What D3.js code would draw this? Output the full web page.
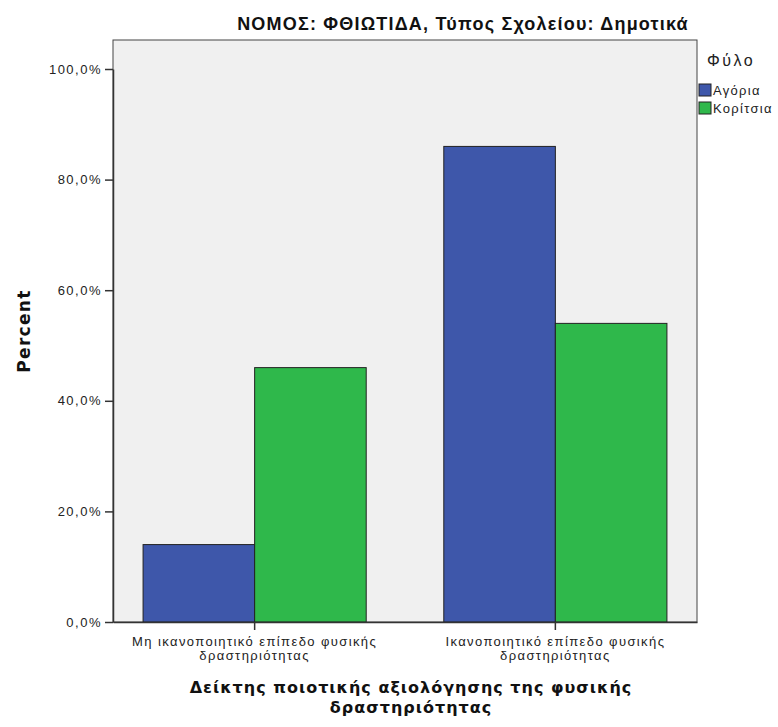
<!DOCTYPE html>
<html><head><meta charset="utf-8">
<script src="https://cdn.jsdelivr.net/npm/d3@7"></script>
<style>body{margin:0;background:#fff;} text{font-family:"Liberation Sans",Arial,sans-serif;}</style>
</head><body>
<svg id="c" width="778" height="727"></svg>
<script>
const categories = [["Μη ικανοποιητικό επίπεδο φυσικής","δραστηριότητας"],["Ικανοποιητικό επίπεδο φυσικής","δραστηριότητας"]];
const seriesNames = ["Αγόρια","Κορίτσια"];
const boys = [14.0, 86.0];
const girls = [46.0, 54.0];
const yTicks = [0,20,40,60,80,100];
const colors = ["#3e57aa","#2fb84b"];

const svg = d3.select("#c");
const L=113, R=697, T=40, B=622;
const y = d3.scaleLinear().domain([0,100]).range([B,69]);
const x0 = d3.scaleBand().domain(d3.range(categories.length)).range([L,R]).paddingInner(0.258).paddingOuter(0.1);
const x1 = d3.scaleBand().domain(d3.range(seriesNames.length)).range([0,x0.bandwidth()]);

svg.append("rect").attr("x",L).attr("y",T).attr("width",R-L).attr("height",B-T).attr("fill","#f0f0f0").attr("stroke","#444").attr("stroke-width",1);

const data = categories.map((c,i)=>[boys[i],girls[i]]);
const g = svg.append("g");
data.forEach((vals,i)=>{
  vals.forEach((v,j)=>{
    g.append("rect").attr("x",x0(i)+x1(j)).attr("y",y(v)).attr("width",x1.bandwidth()).attr("height",B-y(v))
     .attr("fill",colors[j]).attr("stroke","#222").attr("stroke-width",1);
  });
});

// y axis
const ya = svg.append("g").attr("transform",`translate(${L},0)`).call(d3.axisLeft(y).tickValues(yTicks).tickSize(8).tickSizeOuter(0).tickFormat(d=>d.toFixed(1).replace(".",",")+"%"));
ya.select(".domain").attr("stroke","#333").attr("stroke-width",1.5);
ya.selectAll(".tick line").attr("stroke","#333").attr("stroke-width",1.5);
ya.selectAll(".tick text").attr("font-size",13).attr("letter-spacing",1.5).attr("fill","#222").attr("x",-11);

// x axis
const xa = svg.append("g").attr("transform",`translate(0,${B})`).call(d3.axisBottom(x0).tickSize(8).tickSizeOuter(0).tickFormat(""));
xa.select(".domain").attr("stroke","#333").attr("stroke-width",1.5);
xa.selectAll(".tick line").attr("stroke","#333").attr("stroke-width",1.5);
categories.forEach((c,i)=>{
  const cx = x0(i)+x0.bandwidth()/2;
  const t = svg.append("text").attr("text-anchor","middle").attr("font-size",13).attr("letter-spacing",1.4).attr("fill","#222");
  c.forEach((line,k)=> t.append("tspan").attr("x",cx).attr("y",646+k*14).text(line));
});

// titles
svg.append("text").attr("x",463).attr("y",30).attr("text-anchor","middle").attr("font-size",18).attr("letter-spacing",1.2).attr("font-weight","bold").attr("fill","#111").text("ΝΟΜΟΣ: ΦΘΙΩΤΙΔΑ, Τύπος Σχολείου: Δημοτικά");
svg.append("text").attr("transform","translate(30,331) rotate(-90)").attr("text-anchor","middle").attr("font-size",17).attr("letter-spacing",1.3).style("font-family","'DejaVu Sans'").attr("font-weight","bold").attr("fill","#111").text("Percent");
const xt = svg.append("text").attr("text-anchor","middle").attr("font-size",16).attr("letter-spacing",1.0).style("font-family","'DejaVu Sans'").attr("font-weight","bold").attr("fill","#111");
xt.append("tspan").attr("x",411).attr("y",693).text("Δείκτης ποιοτικής αξιολόγησης της φυσικής");
xt.append("tspan").attr("x",411).attr("y",713).text("δραστηριότητας");

// legend
svg.append("text").attr("x",707).attr("y",66).attr("font-size",16).attr("letter-spacing",2.5).attr("fill","#222").text("Φύλο");
seriesNames.forEach((s,j)=>{
  svg.append("rect").attr("x",699).attr("y",84+j*18).attr("width",12).attr("height",12).attr("fill",colors[j]).attr("stroke","#222");
  svg.append("text").attr("x",713).attr("y",95+j*18).attr("font-size",13).attr("letter-spacing",1.3).attr("fill","#222").text(s);
});
</script>
</body></html>
